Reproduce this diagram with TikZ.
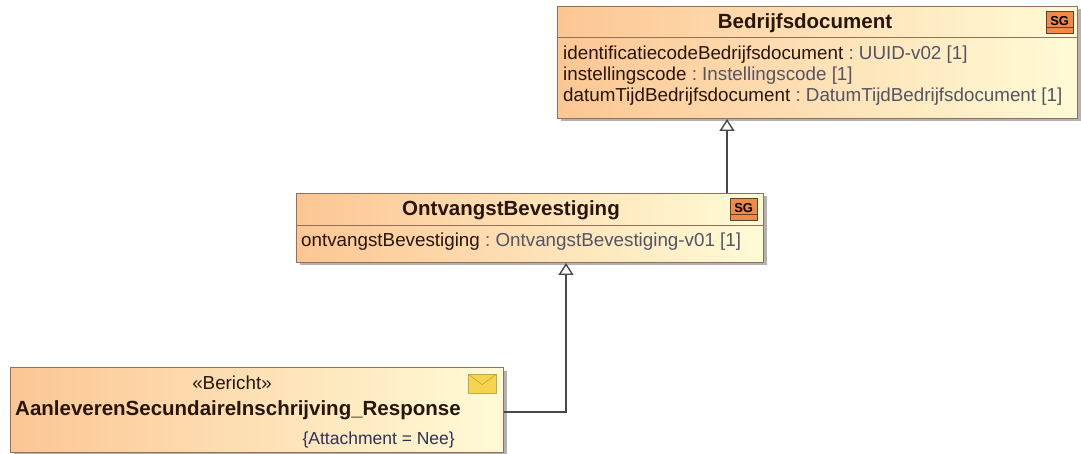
\documentclass[tikz,border=0pt]{standalone}
\usepackage{fontspec}
\setmainfont{Liberation Sans}
\usetikzlibrary{
    positioning,
    arrows.meta,
    shadows
}

\definecolor{klasseoransje}{RGB}{252,198,148}
\definecolor{klassegul}{RGB}{255,251,214}
\definecolor{klassekant}{RGB}{150,112,86}
\definecolor{typegraa}{RGB}{84,84,100}
\definecolor{navnsvart}{RGB}{40,22,12}
\definecolor{taggblaa}{RGB}{48,48,90}
\definecolor{sgoransje}{RGB}{240,138,72}
\definecolor{konvoluttgul}{RGB}{246,212,80}
\definecolor{linjegraa}{RGB}{72,72,72}

\newcommand{\kenmerk}[2]{\textcolor{navnsvart}{#1}\textcolor{typegraa}{\ :\ #2}}

\tikzset{
    klasse/.style={draw=klassekant, line width=1pt, left color=klasseoransje, right color=klassegul,
        anchor=north west, inner sep=0pt,
        drop shadow={shadow xshift=3pt, shadow yshift=-3pt, fill=black!30, opacity=1}},
    tittel/.style={font=\fontsize{20.5}{24}\selectfont\bfseries, text=navnsvart, anchor=base, inner sep=0pt},
    attributt/.style={font=\fontsize{18.8}{21}\selectfont, align=left, anchor=north west, inner sep=0pt},
    sgikon/.style={draw=klassekant!60!black, fill=sgoransje, minimum width=27pt, minimum height=22pt,
        inner sep=0pt, anchor=north west, font=\fontsize{13}{13}\selectfont\bfseries},
    generalisering/.style={draw=linjegraa, line width=1.4pt, -{Triangle[fill=white, width=15pt, length=12pt]}}
}

\begin{document}
\begin{tikzpicture}[x=1pt, y=-1pt]
		\useasboundingbox (0,0) rectangle (1081,454);

		% Bedrijfsdocument
		\node[klasse, minimum width=520pt, minimum height=112pt] (bd) at (557,6) {};
		\draw[klassekant] (bd.west |- 0,37) -- (bd.east |- 0,37);
		\node[tittel] (bdnavn) at (805,29) {Bedrijfsdocument};
		\node[sgikon] (bdsg) at (1046,11) {\raisebox{3pt}{SG}};
		\draw[klassekant!60!black] ([yshift=6pt]bdsg.south west) -- ([yshift=6pt]bdsg.south east);
		\node[attributt] (bdattr) at (563,46) {%
			\kenmerk{identificatiecodeBedrijfsdocument}{UUID-v02 [1]}\\
			\kenmerk{instellingscode}{Instellingscode [1]}\\
			\kenmerk{datumTijdBedrijfsdocument}{DatumTijdBedrijfsdocument [1]}};

		% OntvangstBevestiging
		\node[klasse, minimum width=467pt, minimum height=69pt] (ob) at (296,193) {};
		\draw[klassekant] (ob.west |- 0,225) -- (ob.east |- 0,225);
		\node[tittel] (obnavn) at (511,216) {OntvangstBevestiging};
		\node[sgikon] (obsg) at (730,198) {\raisebox{3pt}{SG}};
		\draw[klassekant!60!black] ([yshift=6pt]obsg.south west) -- ([yshift=6pt]obsg.south east);
		\node[attributt] (obattr) at (301,233) {%
			\kenmerk{ontvangstBevestiging}{OntvangstBevestiging-v01 [1]}};

		% Bericht
		\node[klasse, minimum width=493pt, minimum height=85pt] (resp) at (10,367) {};
		\node[attributt, anchor=base, text=navnsvart] (respstereo) at (232,389) {«Bericht»};
		\node[tittel, anchor=base west] (respnavn) at (15,415) {AanleverenSecundaireInschrijving\_Response};
		\node[attributt, anchor=base east, text=taggblaa, font=\fontsize{17.5}{20}\selectfont] (resptagg) at (455,444) {\{Attachment = Nee\}};

		% Konvolutt
		\node[draw=konvoluttgul!80!black, fill=konvoluttgul, minimum width=28pt, minimum height=19pt,
			inner sep=0pt, anchor=north west] (konvolutt) at (468,374) {};
		\draw[konvoluttgul!70!black] (konvolutt.north west) -- ([yshift=-1pt]konvolutt.center) -- (konvolutt.north east);

		% Generaliseringer
		\draw[generalisering] ([xshift=-37pt]ob.north east) -- ([xshift=-37pt]ob.north east |- bd.south);
		\draw[generalisering] ([yshift=-45pt]resp.north east) -| ([xshift=36pt]ob.south);
	\end{tikzpicture}
\end{document}
